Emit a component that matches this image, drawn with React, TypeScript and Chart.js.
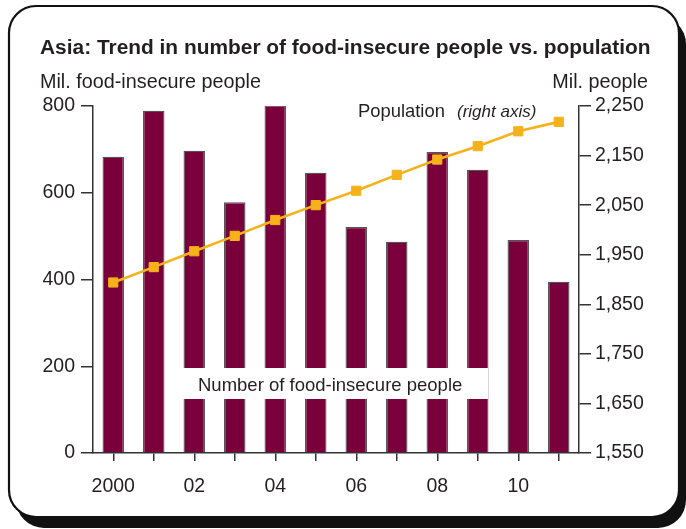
import React, { useEffect, useRef } from "react";
import { Chart, registerables } from "chart.js";

Chart.register(...registerables);

const years = ["2000", "2001", "2002", "2003", "2004", "2005", "2006", "2007", "2008", "2009", "2010", "2011"];
const xTickLabels = ["2000", "", "02", "", "04", "", "06", "", "08", "", "10", ""];
const foodInsecure = [683, 789, 697, 578, 802, 646, 521, 487, 694, 653, 491, 395];
const population = [1894, 1925, 1957, 1988, 2020, 2050, 2079, 2111, 2142, 2169, 2199, 2218];

const TITLE = "Asia: Trend in number of food-insecure people vs. population";
const LEFT_TITLE = "Mil. food-insecure people";
const RIGHT_TITLE = "Mil. people";
const POP_LABEL = "Population";
const POP_NOTE = "(right axis)";
const BAR_LABEL = "Number of food-insecure people";

const FONT = '"Liberation Sans", Arial, Helvetica, sans-serif';
const INK = "#231f20";
const MAROON = "#7a003c";
const GOLD = "#f6b21b";

function roundRect(ctx: CanvasRenderingContext2D, x: number, y: number, w: number, h: number, r: number) {
  ctx.beginPath();
  ctx.moveTo(x + r, y);
  ctx.lineTo(x + w - r, y);
  ctx.arcTo(x + w, y, x + w, y + r, r);
  ctx.lineTo(x + w, y + h - r);
  ctx.arcTo(x + w, y + h, x + w - r, y + h, r);
  ctx.lineTo(x + r, y + h);
  ctx.arcTo(x, y + h, x, y + h - r, r);
  ctx.lineTo(x, y + r);
  ctx.arcTo(x, y, x + r, y, r);
  ctx.closePath();
}

const framePlugin = {
  id: "frame",
  beforeDraw(chart: any) {
    const ctx = chart.ctx as CanvasRenderingContext2D;
    ctx.save();
    ctx.fillStyle = "#ffffff";
    ctx.fillRect(0, 0, chart.width, chart.height);
    // shadow
    roundRect(ctx, 16, 16, 670, 512, 28);
    ctx.fillStyle = "#111";
    ctx.fill();
    // card
    roundRect(ctx, 9, 6, 670, 511, 27);
    ctx.fillStyle = "#ffffff";
    ctx.fill();
    ctx.lineWidth = 2.2;
    ctx.strokeStyle = "#111";
    ctx.stroke();
    ctx.restore();
  },
  afterDatasetsDraw(chart: any) {
    const ctx = chart.ctx as CanvasRenderingContext2D;
    ctx.save();
    // label box over bars
    ctx.fillStyle = "#ffffff";
    ctx.fillRect(182, 368, 306, 31);
    ctx.fillStyle = INK;
    ctx.textBaseline = "alphabetic";
    ctx.textAlign = "left";
    ctx.font = `18.5px ${FONT}`;
    ctx.fillText(BAR_LABEL, 198, 391);
    ctx.restore();
  },
  afterDraw(chart: any) {
    const ctx = chart.ctx as CanvasRenderingContext2D;
    ctx.save();
    ctx.fillStyle = INK;
    ctx.textBaseline = "alphabetic";
    ctx.textAlign = "left";
    ctx.font = `bold 20.9px ${FONT}`;
    ctx.fillText(TITLE, 40, 54);
    ctx.font = `19.8px ${FONT}`;
    ctx.fillText(LEFT_TITLE, 40, 88);
    ctx.textAlign = "right";
    ctx.fillText(RIGHT_TITLE, 648, 88);
    ctx.textAlign = "left";
    ctx.font = `18.4px ${FONT}`;
    ctx.fillText(POP_LABEL, 358, 117);
    ctx.font = `italic 17px ${FONT}`;
    ctx.fillText(POP_NOTE, 457, 117);
    ctx.restore();
  },
};

export default function App() {
  const ref = useRef<HTMLCanvasElement | null>(null);

  useEffect(() => {
    if (!ref.current) return;
    const tickFont = { family: FONT, size: 19.5 };
    const chart = new Chart(ref.current, {
      data: {
        labels: years,
        datasets: [
          {
            type: "line",
            label: "Population",
            data: population,
            yAxisID: "y1",
            borderColor: GOLD,
            backgroundColor: GOLD,
            borderWidth: 2.6,
            pointStyle: "rect",
            pointRadius: 6.5,
            pointBorderWidth: 1,
            pointBackgroundColor: GOLD,
            pointBorderColor: GOLD,
            order: 0,
          } as any,
          {
            type: "bar",
            label: "Number of food-insecure people",
            data: foodInsecure,
            yAxisID: "y",
            backgroundColor: MAROON,
            borderColor: "#555",
            borderWidth: 1.3,
            categoryPercentage: 1,
            barPercentage: 0.53,
            order: 1,
          } as any,
        ],
      },
      options: {
        responsive: false,
        animation: false,
        layout: { padding: { top: 106, left: 0, right: 0, bottom: 0 } },
        plugins: { legend: { display: false }, tooltip: { enabled: false }, title: { display: false } },
        scales: {
          x: {
            type: "category",
            offset: true,
            grid: { display: true, drawOnChartArea: false, drawTicks: true, tickLength: 8, offset: false, color: "#333", lineWidth: 1.5 },
            border: { display: true, color: "#333", width: 1.5 },
            ticks: {
              autoSkip: false,
              maxRotation: 0,
              padding: 14,
              color: INK,
              font: tickFont,
              callback: (_v: any, i: number) => xTickLabels[i],
            },
            afterFit: (s: any) => { s.height = 76; },
          },
          y: {
            position: "left",
            min: 0,
            max: 800,
            grid: { display: true, drawOnChartArea: false, drawTicks: true, tickLength: 12, color: "#333", lineWidth: 1.5 },
            border: { display: true, color: "#333", width: 1.5 },
            ticks: { stepSize: 200, padding: 6, color: INK, font: tickFont },
            afterFit: (s: any) => { s.width = 93; },
          },
          y1: {
            position: "right",
            min: 1550,
            max: 2250,
            grid: { display: true, drawOnChartArea: false, drawTicks: true, tickLength: 12, color: "#333", lineWidth: 1.5 },
            border: { display: true, color: "#333", width: 1.5 },
            ticks: {
              stepSize: 100,
              padding: 4,
              color: INK,
              font: tickFont,
              callback: (v: any) => Number(v).toLocaleString("en-US"),
            },
            afterFit: (s: any) => { s.width = 107; },
          },
        },
      },
      plugins: [framePlugin],
    });
    return () => chart.destroy();
  }, []);

  return (
    <div style={{ position: "absolute", left: 0, top: 0, width: 686, height: 529 }}>
      <canvas ref={ref} width={686} height={529} style={{ display: "block" }} />
    </div>
  );
}
